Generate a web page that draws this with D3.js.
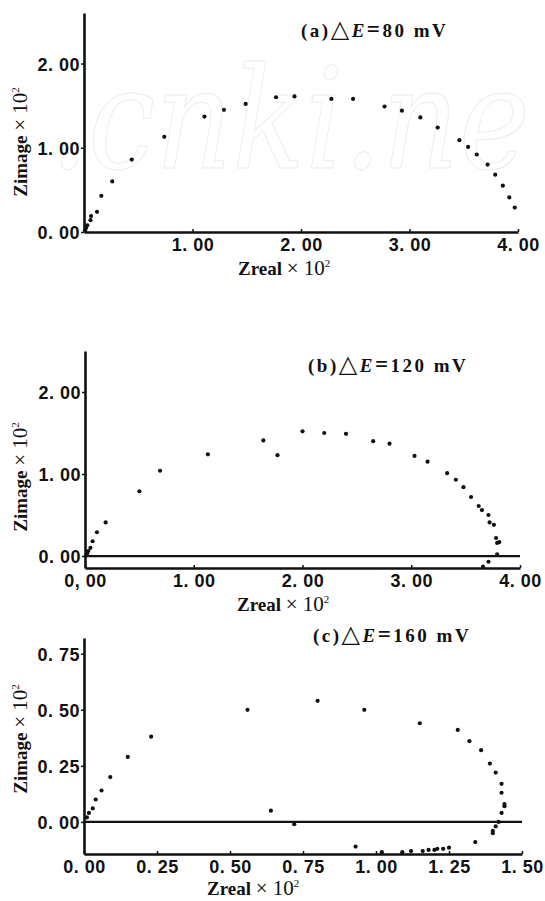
<!DOCTYPE html>
<html>
<head>
<meta charset="utf-8">
<script src="https://cdn.jsdelivr.net/npm/d3@7.9.0/dist/d3.min.js"></script>
<style>
  body { margin: 0; background: #fff; }
  svg { display: block; font-family: "Liberation Serif", "DejaVu Serif", serif; }
  .tick text { font-size: 18px; font-weight: bold; fill: #111; letter-spacing: 0.5px; }
  .axis path, .axis line { stroke: #111; }
</style>
</head>
<body>
<svg id="chart" width="545" height="901"></svg>
<script>
// panel (a) dE = 80 mV
const zrealA = [0.01, 0.02, 0.03, 0.06, 0.065, 0.12, 0.16, 0.26, 0.44, 0.74, 1.11, 1.29, 1.49, 1.77, 1.94, 2.28, 2.48, 2.77, 2.93, 3.10, 3.26, 3.46, 3.54, 3.62, 3.72, 3.79, 3.86, 3.92, 3.97];
const zimagA = [0.02, 0.05, 0.08, 0.14, 0.19, 0.24, 0.43, 0.60, 0.86, 1.13, 1.37, 1.45, 1.52, 1.60, 1.61, 1.58, 1.58, 1.49, 1.44, 1.36, 1.24, 1.09, 1.01, 0.92, 0.80, 0.68, 0.55, 0.41, 0.29];
const xTicksA = [1, 2, 3, 4];
const xLabelsA = ['1. 00', '2. 00', '3. 00', '4. 00'];
const yTicksA = [0, 1, 2];
const yLabelsA = ['0. 00', '1. 00', '2. 00'];

// panel (b) dE = 120 mV
const zrealB = [0.01, 0.02, 0.03, 0.05, 0.07, 0.11, 0.19, 0.50, 0.69, 1.13, 1.64, 1.77, 2.00, 2.20, 2.40, 2.65, 2.80, 3.03, 3.15, 3.33, 3.41, 3.48, 3.55, 3.62, 3.65, 3.71, 3.72, 3.76, 3.78, 3.79, 3.81, 3.79, 3.71, 3.66];
const zimagB = [0.01, 0.03, 0.06, 0.10, 0.18, 0.29, 0.41, 0.79, 1.04, 1.24, 1.41, 1.23, 1.52, 1.50, 1.49, 1.40, 1.37, 1.22, 1.15, 1.01, 0.93, 0.84, 0.72, 0.61, 0.56, 0.50, 0.41, 0.38, 0.22, 0.16, 0.17, 0.02, -0.07, -0.13];
const xTicksB = [0, 1, 2, 3, 4];
const xLabelsB = ['0, 00', '1. 00', '2. 00', '3. 00', '4. 00'];
const yTicksB = [0, 1, 2];
const yLabelsB = ['0. 00', '1. 00', '2. 00'];

// panel (c) dE = 160 mV
const zrealC = [0.01, 0.017, 0.03, 0.04, 0.06, 0.09, 0.15, 0.23, 0.56, 0.64, 0.72, 0.80, 0.96, 1.15, 1.28, 1.32, 1.36, 1.39, 1.41, 1.43, 1.43, 1.44, 1.44, 1.43, 1.42, 1.41, 1.40, 1.40, 1.34, 0.93, 1.02, 1.09, 1.12, 1.16, 1.18, 1.20, 1.21, 1.23, 1.25];
const zimagC = [0.02, 0.04, 0.06, 0.10, 0.14, 0.20, 0.29, 0.38, 0.50, 0.05, -0.01, 0.54, 0.50, 0.44, 0.41, 0.36, 0.32, 0.26, 0.22, 0.17, 0.13, 0.08, 0.07, 0.04, 0.00, -0.02, -0.04, -0.05, -0.09, -0.11, -0.135, -0.135, -0.13, -0.13, -0.125, -0.125, -0.12, -0.12, -0.115];
const xTicksC = [0, 0.25, 0.5, 0.75, 1, 1.25, 1.5];
const xLabelsC = ['0. 00', '0. 25', '0. 50', '0. 75', '1. 00', '1. 25', '1. 50'];
const yTicksC = [0, 0.25, 0.5, 0.75];
const yLabelsC = ['0. 00', '0. 25', '0. 50', '0. 75'];

const titles = ['(a)', '(b)', '(c)'];
const deltaE = ['80', '120', '160'];

const svg = d3.select('#chart');

// faint watermark
svg.append('text')
  .attr('x', 50).attr('y', 168)
  .attr('textLength', 480).attr('lengthAdjust', 'spacingAndGlyphs')
  .style('font-family', '"DejaVu Serif", serif')
  .style('font-style', 'italic')
  .style('font-size', '140px')
  .attr('fill', 'none')
  .attr('stroke', '#ececec')
  .attr('stroke-width', 1)
  .text('.cnki.ne');

function drawPanel(p) {
  const x = d3.scaleLinear().domain(p.xDomain).range(p.xRange);
  const y = d3.scaleLinear().domain(p.yDomain).range(p.yRange);
  const g = svg.append('g');

  const xAxis = d3.axisBottom(x)
    .tickValues(p.xTicks)
    .tickFormat((d, i) => p.xLabels[i])
    .tickSize(-3).tickSizeOuter(0).tickPadding(3);
  const yAxis = d3.axisLeft(y)
    .tickValues(p.yTicks)
    .tickFormat((d, i) => p.yLabels[i])
    .tickSize(3).tickSizeOuter(0).tickPadding(1);

  const gx = g.append('g').attr('class', 'axis')
    .attr('transform', `translate(0,${p.yRange[0]})`).call(xAxis);
  const gy = g.append('g').attr('class', 'axis')
    .attr('transform', `translate(${p.xRange[0]},0)`).call(yAxis);
  gx.select('.domain').attr('stroke-width', 2.6);
  gy.select('.domain').attr('stroke-width', 2.6);
  gx.selectAll('.tick line').attr('stroke-width', 1.5);
  gy.selectAll('.tick line').attr('stroke-width', 1.5);
  gx.selectAll('.tick text').attr('dy', '0.9em');
  gy.selectAll('.tick text').attr('dy', '0.36em');

  if (p.zeroLine) {
    g.append('line')
      .attr('x1', x(0)).attr('x2', p.xRange[1])
      .attr('y1', y(0)).attr('y2', y(0))
      .attr('stroke', '#111').attr('stroke-width', 2.2);
  }

  g.append('g').selectAll('circle')
    .data(d3.zip(p.zreal, p.zimag))
    .join('circle')
    .attr('cx', d => x(d[0]))
    .attr('cy', d => y(d[1]))
    .attr('r', 2.1)
    .attr('fill', '#111');

  // title
  const t = g.append('text')
    .attr('x', p.titleX).attr('y', p.titleY)
    .style('font-size', '19px').style('font-weight', 'bold')
    .style('letter-spacing', '2.5px').attr('fill', '#111');
  t.append('tspan').text(p.title);
  t.append('tspan').style('font-family', '"DejaVu Sans", sans-serif').style('font-weight', 'normal')
    .style('font-size', '24px').text('\u25B3');
  t.append('tspan').style('font-style', 'italic').text('E');
  t.append('tspan').style('font-size', '23px').text('=');
  t.append('tspan').text(p.dE + '  mV');

  // x label
  const xl = g.append('text')
    .attr('x', p.xLabelX).attr('y', p.xLabelY)
    .style('font-size', '19px').style('font-weight', 'bold').attr('fill', '#111');
  xl.append('tspan').text('Zreal ');
  xl.append('tspan').style('font-weight', 'normal').style('font-size', '21px').text('\u00D7 10');
  xl.append('tspan').style('font-size', '11px').style('font-weight', 'normal').attr('dy', -8).text('2');

  // y label
  const yl = g.append('text')
    .attr('transform', `translate(27,${p.yLabelY}) rotate(-90)`)
    .attr('text-anchor', 'middle')
    .style('font-size', '19px').style('font-weight', 'bold').attr('fill', '#111');
  yl.append('tspan').text('Zimage ');
  yl.append('tspan').style('font-weight', 'normal').style('font-size', '21px').text('\u00D7 10');
  yl.append('tspan').style('font-size', '11px').style('font-weight', 'normal').attr('dy', -8).text('2');
}

drawPanel({
  zreal: zrealA, zimag: zimagA,
  xDomain: [0, 4], xRange: [84, 518], yDomain: [0, 2.6], yRange: [232, 13],
  xTicks: xTicksA, xLabels: xLabelsA, yTicks: yTicksA, yLabels: yLabelsA,
  zeroLine: false, title: titles[0], dE: deltaE[0], titleX: 301, titleY: 37,
  xLabelX: 238, xLabelY: 275, yLabelY: 142
});
drawPanel({
  zreal: zrealB, zimag: zimagB,
  xDomain: [0, 4], xRange: [85, 520], yDomain: [-0.146, 2.5], yRange: [568, 351],
  xTicks: xTicksB, xLabels: xLabelsB, yTicks: yTicksB, yLabels: yLabelsB,
  zeroLine: true, title: titles[1], dE: deltaE[1], titleX: 308, titleY: 372,
  xLabelX: 237, xLabelY: 611, yLabelY: 477
});
drawPanel({
  zreal: zrealC, zimag: zimagC,
  xDomain: [0, 1.5], xRange: [84, 522], yDomain: [-0.143, 0.82], yRange: [854, 638],
  xTicks: xTicksC, xLabels: xLabelsC, yTicks: yTicksC, yLabels: yLabelsC,
  zeroLine: true, title: titles[2], dE: deltaE[2], titleX: 313, titleY: 642,
  xLabelX: 207, xLabelY: 895, yLabelY: 739
});
</script>
</body>
</html>
